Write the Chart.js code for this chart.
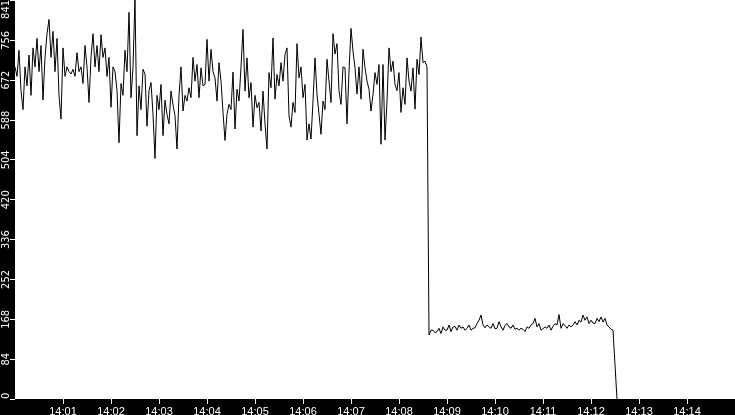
<!DOCTYPE html>
<html>
<head>
<meta charset="utf-8">
<title>Trace</title>
<script src="https://cdn.jsdelivr.net/npm/chart.js@4"></script>
<style>
  html, body { margin: 0; padding: 0; background: #000; }
  canvas { display: block; }
</style>
</head>
<body>
<canvas id="trace" width="735" height="415"></canvas>
<script>
// time axis: first sample at START, one sample every SAMPLE_SECONDS
const START = '14:00';
const SAMPLE_SECONDS = 2.5;

// readings before the drop (14:00 .. ~14:08:35)
const highPhase = [
  700, 680, 735, 650, 610, 700, 660, 725, 640, 740, 700, 760, 690, 745, 630, 720, 770, 800, 720, 775, 690, 760, 640, 590,
  740, 680, 700, 690, 685, 695, 680, 730, 690, 700, 665, 745, 700, 625, 720, 770, 700, 745, 690, 768, 720, 740, 680, 720, 615, 700, 690, 650, 540,
  665, 640, 735, 690, 815, 635, 700, 845, 555, 660, 610, 695, 685, 575, 650, 667, 600, 507, 640, 610, 663, 555, 630, 600, 580, 649,
  620, 597, 527, 640, 700, 607, 640, 628, 656, 635, 720, 670, 705, 635, 698, 660, 663, 758, 670, 737, 690, 677, 628, 709, 670, 604, 545, 600, 621,
  610, 689, 569, 653, 628, 700, 779, 649, 719, 635, 667, 573, 640, 614, 625, 565, 649, 580, 527, 688, 656, 761, 632, 684, 660, 709, 670, 726, 740, 597,
  573, 625, 604, 749, 677, 700, 635, 663, 546, 580, 548, 628, 719, 642, 600, 558, 628, 610, 716, 670, 625, 770, 727, 749, 650,
  621, 700, 698, 580, 691, 781, 733, 698, 643, 700, 632, 737, 698, 670, 653, 607, 642, 688, 663, 705, 537, 705, 546, 628, 740, 690, 712, 663, 650, 688,
  604, 656, 621, 719, 670, 649, 698, 611, 716, 684, 763, 709, 712, 700
];

// readings after the drop, ending when the feed goes to zero (~14:12:25)
const lowPhase = [
  135, 145, 145, 140, 142, 149, 138, 152, 145, 145, 156, 142, 152, 153, 145, 156, 149, 152, 145, 149, 156, 145, 149, 150,
  159, 166, 177, 156, 150, 156, 152, 149, 159, 148, 149, 163, 152, 145, 155, 159, 152, 149, 156, 147, 149, 145, 149,
  147, 142, 152, 149, 156, 159, 170, 152, 159, 145, 148, 152, 149, 156, 145, 153, 159, 156, 178, 149, 159, 155, 149,
  156, 152, 156, 163, 156, 166, 162, 177, 166, 173, 159, 166, 160, 159, 170, 163, 173, 162, 170, 156, 152, 147, 145,
  72, 0
];

const xTickLabels = ['14:01', '14:02', '14:03', '14:04', '14:05', '14:06', '14:07',
                     '14:08', '14:09', '14:10', '14:11', '14:12', '14:13', '14:14'];
const yTickLabels = [0, 84, 168, 252, 336, 420, 504, 588, 672, 756, 841];

const X_MIN = 0, X_MAX = 900;   // 14:00 .. 14:15 in seconds
const Y_MIN = 0, Y_MAX = 841;

function toMinutes(hhmm){
  const [h, m] = hhmm.split(':').map(Number);
  return h * 60 + m;
}
function secondsFromStart(hhmm){
  return (toMinutes(hhmm) - toMinutes(START)) * 60;
}
function clockLabel(sec){
  const total = toMinutes(START) + Math.round(sec / 60);
  const h = Math.floor(total / 60), m = total % 60;
  return h + ':' + String(m).padStart(2, '0');
}

const points = highPhase.concat(lowPhase).map((v, i) => ({ x: i * SAMPLE_SECONDS, y: v }));

/* black frame, white plot area */
const framePlugin = {
  id: 'frame',
  beforeDraw(chart){
    const { ctx, chartArea: a } = chart;
    ctx.save();
    ctx.fillStyle = '#000';
    ctx.fillRect(0, 0, chart.width, chart.height);
    ctx.fillStyle = '#fff';
    ctx.fillRect(a.left, a.top, a.right - a.left, a.bottom - a.top);
    ctx.restore();
  }
};

/* rotated y labels, kept inside the plot height */
const yLabelPlugin = {
  id: 'yLabels',
  afterDraw(chart){
    const { ctx, chartArea: a } = chart;
    const scale = chart.scales.y;
    ctx.save();
    ctx.fillStyle = '#fff';
    ctx.font = '11px "Liberation Sans Narrow", "DejaVu Sans Condensed", "Liberation Sans", sans-serif';
    ctx.textAlign = 'center';
    ctx.textBaseline = 'middle';
    scale.ticks.forEach(t => {
      const txt = String(t.value);
      const w = ctx.measureText(txt).width;
      let cy = scale.getPixelForValue(t.value);
      cy = Math.min(Math.max(cy, a.top + w / 2), a.bottom - w / 2);
      ctx.save();
      ctx.translate(6, cy);
      ctx.rotate(-Math.PI / 2);
      ctx.fillText(txt, 0, 0);
      ctx.restore();
    });
    ctx.restore();
  }
};

new Chart(document.getElementById('trace'), {
  type: 'line',
  data: {
    datasets: [{
      data: points,
      borderColor: '#000',
      borderWidth: 1,
      pointRadius: 0,
      tension: 0,
      fill: false
    }]
  },
  options: {
    responsive: false,
    animation: false,
    devicePixelRatio: 1,
    layout: { padding: 0 },
    plugins: { legend: { display: false }, tooltip: { enabled: false } },
    scales: {
      x: {
        type: 'linear',
        min: X_MIN,
        max: X_MAX,
        afterBuildTicks: s => { s.ticks = xTickLabels.map(l => ({ value: secondsFromStart(l) })); },
        afterFit: s => { s.height = 16; },
        grid: { drawOnChartArea: false, color: '#fff', tickLength: 5 },
        border: { display: false },
        ticks: {
          color: '#fff',
          font: { family: '"Liberation Sans", Arial, sans-serif', size: 11 },
          padding: 1,
          maxRotation: 0,
          autoSkip: false,
          callback: v => clockLabel(v)
        }
      },
      y: {
        min: Y_MIN,
        max: Y_MAX,
        afterBuildTicks: s => { s.ticks = yTickLabels.map(v => ({ value: v })); },
        afterFit: s => { s.width = 15; },
        grid: { drawOnChartArea: false, color: '#fff', tickLength: 5 },
        border: { display: false },
        ticks: { display: false }
      }
    }
  },
  plugins: [framePlugin, yLabelPlugin]
});
</script>
</body>
</html>
